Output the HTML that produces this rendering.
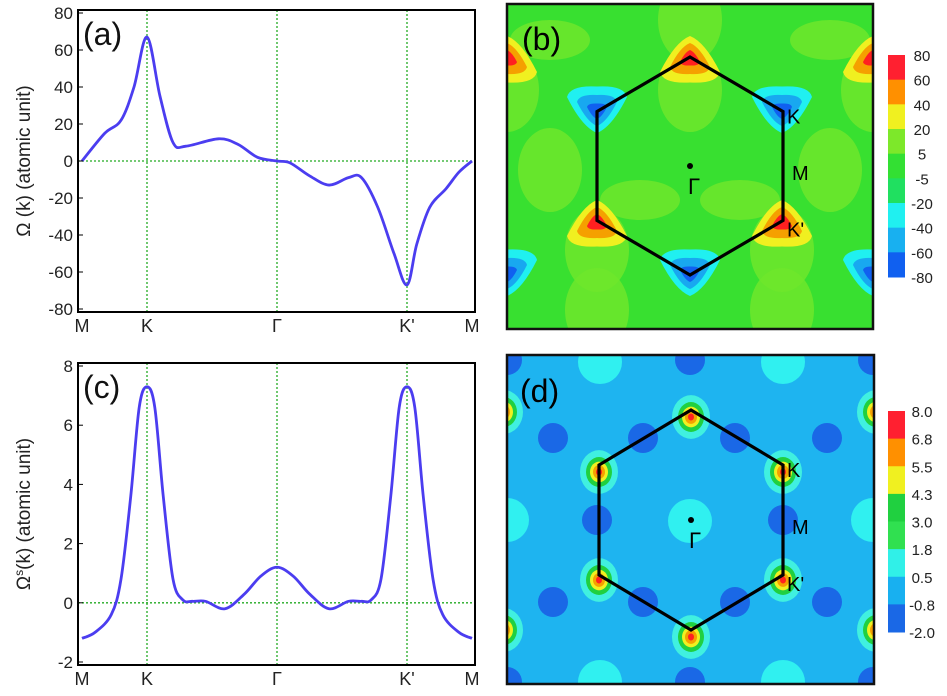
<!DOCTYPE html>
<html><head><meta charset="utf-8"><style>
body{margin:0;background:#fff;font-family:"Liberation Sans",sans-serif}
svg text{font-family:"Liberation Sans",sans-serif}
</style></head><body>
<svg id="s" width="947" height="691" xmlns="http://www.w3.org/2000/svg">
<defs>
<clipPath id="cb"><rect x="507" y="4" width="366" height="325"/></clipPath>
<clipPath id="cd"><rect x="507" y="355" width="367" height="329"/></clipPath>
</defs>
<g id="pa"></g>
<g id="pc"></g>
<g id="pb"></g>
<g id="pd"></g>
</svg>
<script>
const kPath=[0,0.35,0.6,0.8,1,1.2,1.4,1.6,2.1,2.4,2.7,3,3.2,3.5,3.8,4.1,4.3,4.55,4.8,5,5.15,5.35,5.6,5.8,6];
const omegaA=[0,15,22,40,67,35,10,8,12,9,2,0,-1,-8,-13,-9,-9,-25,-50,-67,-45,-25,-15,-6,0];
const kPathC=[0,0.2,0.45,0.6,0.75,0.88,1,1.12,1.25,1.4,1.55,1.7,1.9,2.2,2.5,2.75,3,3.25,3.5,3.8,4.1,4.3,4.45,4.6,4.75,4.88,5,5.12,5.25,5.4,5.55,5.8,6];
const omegaC=[-1.2,-1.0,-0.4,0.8,3.6,6.6,7.3,6.6,3.6,0.8,0.1,0.05,0.05,-0.2,0.3,0.9,1.2,0.9,0.3,-0.2,0.05,0.05,0.1,0.8,3.6,6.6,7.3,6.6,3.6,0.8,-0.4,-1.0,-1.2];
const ticksA=[80,60,40,20,0,-20,-40,-60,-80];
const ticksC=[8,6,4,2,0,-2];
const xLabels=["M","K","Γ","K'","M"];
const xLabelPos=[0,1,3,5,6];
const cbB=["80","60","40","20","5","-5","-20","-40","-60","-80"];
const cbD=["8.0","6.8","5.5","4.3","3.0","1.8","0.5","-0.8","-2.0"];
const NS="http://www.w3.org/2000/svg";
function el(p,t,a,txt){const e=document.createElementNS(NS,t);for(const k in a)e.setAttribute(k,a[k]);if(txt!==undefined)e.textContent=txt;p.appendChild(e);return e;}
function smooth(pts){let d="M"+pts[0][0]+","+pts[0][1];for(let i=0;i<pts.length-1;i++){const p0=pts[Math.max(0,i-1)],p1=pts[i],p2=pts[i+1],p3=pts[Math.min(pts.length-1,i+2)];d+=" C"+(p1[0]+(p2[0]-p0[0])/6)+","+(p1[1]+(p2[1]-p0[1])/6)+" "+(p2[0]-(p3[0]-p1[0])/6)+","+(p2[1]-(p3[1]-p1[1])/6)+" "+p2[0]+","+p2[1];}return d;}
function linePanel(g,top,bot,ymin,ymax,ticks,xs,ys,label,sup){
  const L=78,R=475;const x=k=>82+k*65;const y=v=>bot-3-(v-ymin)/(ymax-ymin)*(bot-top-6);
  [1,3,5].forEach(k=>{const l=el(g,"line",{x1:x(k),x2:x(k),y1:top,y2:bot,stroke:"#2a2","stroke-width":1.3,"stroke-dasharray":"2,2"});});
  const z=el(g,"line",{x1:L,x2:R,y1:y(0),y2:y(0),stroke:"#2a2","stroke-width":1.3,"stroke-dasharray":"2,2"});
  const pts=xs.map((k,i)=>[x(k),y(ys[i])]);
  const c=el(g,"path",{d:smooth(pts),fill:"none",stroke:"#4b3df0","stroke-width":2.8});
  const b=el(g,"rect",{x:L,y:top,width:R-L,height:bot-top,fill:"none",stroke:"#000","stroke-width":2});
  ticks.forEach(v=>{const t=el(g,"text",{x:L-5,y:y(v)+6,"text-anchor":"end","font-size":17,fill:"#222"},String(v));
    el(g,"line",{x1:L,x2:L+5,y1:y(v),y2:y(v),stroke:"#000"});});
  xLabels.forEach((s,i)=>{const t=el(g,"text",{x:x(xLabelPos[i]),y:bot+20,"text-anchor":"middle","font-size":18,fill:"#222","font-family":s=="Γ"?"Liberation Serif":"Liberation Sans"},s);});
  const lb=el(g,"text",{x:L+5,y:top+35,"font-size":32,fill:"#111"},label);
  const yt=el(g,"text",{transform:`translate(30,${(top+bot)/2}) rotate(-90)`,"text-anchor":"middle","font-size":19,fill:"#222"});
  yt.innerHTML=sup?'Ω<tspan dy="-7" font-size="12">s</tspan><tspan dy="7">(k) (atomic unit)</tspan>':'Ω (k) (atomic unit)';
}
linePanel(document.getElementById("pa"),10,312,-80,80,ticksA,kPath,omegaA,"(a)",false);
linePanel(document.getElementById("pc"),363,665,-2,8,ticksC,kPathC,omegaC,"(c)",true);

function blob(g,cx,cy,cols,r0,up,name){cols.forEach((c,i)=>{const r=r0*(1-i/cols.length);const h=r;
  const dir=up?1:-1;const d=`M${cx},${cy-dir*h*0.7} Q${cx+r*0.5},${cy-dir*h*0.5} ${cx+r},${cy+dir*h*0.5} Q${cx+r*0.9},${cy+dir*h*0.9} ${cx},${cy+dir*h*0.85} Q${cx-r*0.9},${cy+dir*h*0.9} ${cx-r},${cy+dir*h*0.5} Q${cx-r*0.5},${cy-dir*h*0.5} ${cx},${cy-dir*h*0.7}Z`;
  const p=el(g,"path",{d,fill:c});});}
function hex(g,cx,cy,R,V){const pts=[[cx,cy-V],[cx+R,cy-V/2],[cx+R,cy+V/2],[cx,cy+V],[cx-R,cy+V/2],[cx-R,cy-V/2]];
  const p=el(g,"polygon",{points:pts.map(p=>p.join(",")).join(" "),fill:"none",stroke:"#000","stroke-width":3.2});
  const d=el(g,"circle",{cx,cy,r:3,fill:"#000"});
  const t=el(g,"text",{x:cx-2,y:cy+28,"font-size":22,"font-family":"Liberation Serif"},"Γ");
  [["K",cx+R+4,cy-V/2+12],["M",cx+R+9,cy+14],["K'",cx+R+4,cy+V/2+16]].forEach(a=>{const q=el(g,"text",{x:a[1],y:a[2],"font-size":20},a[0]);});}
function colorbar(g,x,y0,y1,cols,labels,name){const h=(y1-y0)/cols.length;cols.forEach((c,i)=>{el(g,"rect",{x,y:y0+i*h,width:17,height:h+0.5,fill:c});});
  const step=(y1-y0)/(labels.length-1);labels.forEach((s,i)=>{const t=el(g,"text",{x:x+34,y:y0+i*step+6,"text-anchor":"middle","font-size":15,fill:"#222"},s);});}

// panel b
(function(){const g=document.getElementById("pb");const c=el(g,"g",{"clip-path":"url(#cb)"});
 el(c,"rect",{x:507,y:4,width:366,height:325,fill:"#38e030"});
 const light="#6ee62c";
 [[690,90],[597,250],[782,250],[507,90],[873,90],[690,20],[597,310],[782,310],[550,170],[830,170]].forEach(p=>{el(c,"ellipse",{cx:p[0],cy:p[1],rx:32,ry:42,fill:light,opacity:0.85});});
 [[640,200],[740,200],[550,40],[830,40]].forEach(p=>{el(c,"ellipse",{cx:p[0],cy:p[1],rx:40,ry:20,fill:light,opacity:0.85});});
 const pos=["#f0f020","#f5a000","#ff2020"],neg=["#20f0f0","#18a8f0","#1060f0"];
 [[690,57],[597,221],[782,221],[507,57],[873,57]].forEach(p=>blob(c,p[0],p[1],pos,30,true,"positive-peak"));
 [[597,112],[782,112],[690,275],[507,275],[873,275]].forEach(p=>blob(c,p[0],p[1],neg,30,false,"negative-peak"));
 hex(g,690,166,93,109);
 el(g,"rect",{x:507,y:4,width:366,height:325,fill:"none",stroke:"#111","stroke-width":2.5});
 const t=el(g,"text",{x:522,y:50,"font-size":32},"(b)");
 colorbar(g,888,55,277,["#ff2030","#ff9000","#f0f020","#7de82a","#33e033","#20e060","#20f0f0","#18b0f0","#1060f0"],cbB,"colorbar-b");})();

// panel d
(function(){const g=document.getElementById("pd");const c=el(g,"g",{"clip-path":"url(#cd)"});
 el(c,"rect",{x:507,y:355,width:367,height:329,fill:"#1eb4f0"});
 [[690,521],[507,520],[873,520],[600,362],[783,362],[600,682],[783,682]].forEach(p=>el(c,"ellipse",{cx:p[0],cy:p[1],rx:22,ry:22,fill:"#30f0f0"}));
 [[553,438],[643,438],[735,438],[827,438],[553,602],[643,602],[735,602],[827,602],[597,520],[783,520],[690,360],[690,682],[507,360],[873,360],[507,682],[873,682]].forEach(p=>el(c,"ellipse",{cx:p[0],cy:p[1],rx:15,ry:15,fill:"#1a68e6"}));
 const cols=[["#40f0e0",19],["#20d040",13],["#f0f020",9],["#f5a000",6],["#ff2020",3]];
 [[691,415],[599,470],[783,470],[599,578],[783,578],[691,635],[507,410],[873,410],[507,628],[873,628]].forEach(p=>cols.forEach(cc=>{const e=el(c,"ellipse",{cx:p[0]+(p[0]<560?-3:p[0]>860?3:0),cy:p[1]+2,rx:cc[1],ry:cc[1]*1.15,fill:cc[0]});}));
 hex(g,691,520,92,110);
 el(g,"rect",{x:507,y:355,width:367,height:329,fill:"none",stroke:"#111","stroke-width":2.5});
 const t=el(g,"text",{x:520,y:402,"font-size":32},"(d)");
 colorbar(g,888,411,632,["#ff2030","#ff9000","#f0f020","#20d040","#30e050","#30f0e8","#18b0f0","#1a68e6"],cbD,"colorbar-d");})();
</script>
</body></html>
